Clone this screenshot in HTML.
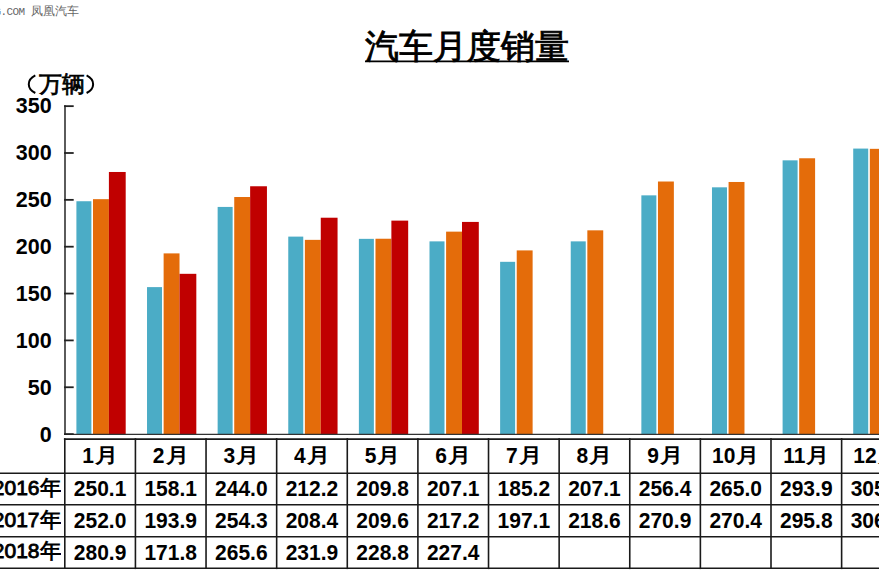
<!DOCTYPE html>
<html><head><meta charset="utf-8"><style>
html,body{margin:0;padding:0;background:#fff;}
body{width:879px;height:586px;overflow:hidden;position:relative;font-family:"Liberation Sans",sans-serif;color:#000;}
svg{position:absolute;left:0;top:0;}
div{position:absolute;white-space:nowrap;line-height:24px;height:24px;}
.vl{transform:scaleY(1.09);transform-origin:50% 50%;}
.ax{transform:scaleY(1.03);transform-origin:50% 50%;}
.dg2{display:inline-block;font-weight:normal;-webkit-text-stroke:0.85px #000;transform:scaleY(1.0);margin-right:-1.5px;}
.cj2{display:inline-block;font-size:23px;margin-left:0px;transform:scale(0.93,0.9);transform-origin:100% 85%;}
.dg{display:inline-block;transform:scaleY(1.09);}
.cj{display:inline-block;font-size:23px;margin-left:1px;transform:scale(1.02,0.88);transform-origin:50% 85%;}
.ax{font-weight:bold;font-size:21.5px;}
.mh{font-weight:bold;font-size:21px;}
.vl{font-weight:bold;font-size:21px;}
.yl{font-weight:bold;font-size:21px;}
.tl{stroke:#1a1a1a;stroke-width:1.6;}
.ti{font-weight:500;-webkit-text-stroke:0.9px #000;font-size:34px;line-height:40px;height:40px;}
.un{font-weight:500;-webkit-text-stroke:0.75px #000;font-size:23px;}
.wm{font-family:"Liberation Mono",monospace;font-size:11px;letter-spacing:-0.6px;color:#666;line-height:14px;height:14px;}
.wm2{font-size:12px;color:#666;line-height:14px;height:14px;}
</style></head><body>
<svg width="879" height="586" viewBox="0 0 879 586">
<path d="M35.3,75.4 C26.6,79.8 26.6,88.6 35.3,93" fill="none" stroke="#000" stroke-width="2"/>
<path d="M86.6,75.4 C95.3,79.8 95.3,88.6 86.6,93" fill="none" stroke="#000" stroke-width="2"/>
<line x1="365" y1="61.4" x2="569" y2="61.4" stroke="#000" stroke-width="1.6"/>
<rect x="76.40" y="201.23" width="15.00" height="232.87" fill="#4BACC6"/>
<rect x="93.00" y="199.16" width="15.90" height="234.94" fill="#E46C0A"/>
<rect x="108.90" y="171.98" width="16.80" height="262.12" fill="#C00000"/>
<rect x="147.02" y="287.11" width="15.00" height="146.99" fill="#4BACC6"/>
<rect x="163.62" y="253.39" width="15.90" height="180.71" fill="#E46C0A"/>
<rect x="179.52" y="273.82" width="16.80" height="160.28" fill="#C00000"/>
<rect x="217.64" y="206.93" width="15.00" height="227.17" fill="#4BACC6"/>
<rect x="234.24" y="197.01" width="15.90" height="237.09" fill="#E46C0A"/>
<rect x="250.14" y="186.26" width="16.80" height="247.84" fill="#C00000"/>
<rect x="288.26" y="236.61" width="15.00" height="197.49" fill="#4BACC6"/>
<rect x="304.86" y="239.86" width="15.90" height="194.24" fill="#E46C0A"/>
<rect x="320.76" y="217.72" width="16.80" height="216.38" fill="#C00000"/>
<rect x="358.88" y="238.85" width="15.00" height="195.25" fill="#4BACC6"/>
<rect x="375.48" y="238.74" width="15.90" height="195.36" fill="#E46C0A"/>
<rect x="391.38" y="220.62" width="16.80" height="213.48" fill="#C00000"/>
<rect x="429.50" y="241.37" width="15.00" height="192.73" fill="#4BACC6"/>
<rect x="446.10" y="231.64" width="15.90" height="202.46" fill="#E46C0A"/>
<rect x="462.00" y="221.92" width="16.80" height="212.18" fill="#C00000"/>
<rect x="500.12" y="261.82" width="15.00" height="172.28" fill="#4BACC6"/>
<rect x="516.72" y="250.41" width="15.90" height="183.69" fill="#E46C0A"/>
<rect x="570.74" y="241.37" width="15.00" height="192.73" fill="#4BACC6"/>
<rect x="587.34" y="230.34" width="15.90" height="203.76" fill="#E46C0A"/>
<rect x="641.36" y="195.35" width="15.00" height="238.75" fill="#4BACC6"/>
<rect x="657.96" y="181.51" width="15.90" height="252.59" fill="#E46C0A"/>
<rect x="711.98" y="187.32" width="15.00" height="246.78" fill="#4BACC6"/>
<rect x="728.58" y="181.98" width="15.90" height="252.12" fill="#E46C0A"/>
<rect x="782.60" y="160.34" width="15.00" height="273.76" fill="#4BACC6"/>
<rect x="799.20" y="158.27" width="15.90" height="275.83" fill="#E46C0A"/>
<rect x="853.22" y="148.58" width="15.00" height="285.52" fill="#4BACC6"/>
<rect x="869.82" y="148.84" width="15.90" height="285.26" fill="#E46C0A"/>
<line x1="64.1" y1="434.40" x2="879" y2="434.40" stroke="#333" stroke-width="1.3"/>
<line x1="65" y1="105.3" x2="65" y2="435.00" stroke="#333" stroke-width="1.6"/>
<line x1="64.1" y1="434.10" x2="73.7" y2="434.10" stroke="#222" stroke-width="1.8"/>
<line x1="64.1" y1="387.25" x2="73.7" y2="387.25" stroke="#222" stroke-width="1.8"/>
<line x1="64.1" y1="340.40" x2="73.7" y2="340.40" stroke="#222" stroke-width="1.8"/>
<line x1="64.1" y1="293.55" x2="73.7" y2="293.55" stroke="#222" stroke-width="1.8"/>
<line x1="64.1" y1="246.70" x2="73.7" y2="246.70" stroke="#222" stroke-width="1.8"/>
<line x1="64.1" y1="199.85" x2="73.7" y2="199.85" stroke="#222" stroke-width="1.8"/>
<line x1="64.1" y1="153.00" x2="73.7" y2="153.00" stroke="#222" stroke-width="1.8"/>
<line x1="64.1" y1="106.15" x2="73.7" y2="106.15" stroke="#222" stroke-width="1.8"/>
<line x1="63.90" y1="439.10" x2="879" y2="439.10" class="tl"/>
<line x1="0" y1="473.20" x2="879" y2="473.20" class="tl"/>
<line x1="0" y1="504.80" x2="879" y2="504.80" class="tl"/>
<line x1="0" y1="536.70" x2="879" y2="536.70" class="tl"/>
<line x1="0" y1="568.20" x2="879" y2="568.20" class="tl"/>
<line x1="64.80" y1="438.20" x2="64.80" y2="569.10" class="tl"/>
<line x1="135.42" y1="438.20" x2="135.42" y2="569.10" class="tl"/>
<line x1="206.04" y1="438.20" x2="206.04" y2="569.10" class="tl"/>
<line x1="276.66" y1="438.20" x2="276.66" y2="569.10" class="tl"/>
<line x1="347.28" y1="438.20" x2="347.28" y2="569.10" class="tl"/>
<line x1="417.90" y1="438.20" x2="417.90" y2="569.10" class="tl"/>
<line x1="488.52" y1="438.20" x2="488.52" y2="569.10" class="tl"/>
<line x1="559.14" y1="438.20" x2="559.14" y2="569.10" class="tl"/>
<line x1="629.76" y1="438.20" x2="629.76" y2="569.10" class="tl"/>
<line x1="700.38" y1="438.20" x2="700.38" y2="569.10" class="tl"/>
<line x1="771.00" y1="438.20" x2="771.00" y2="569.10" class="tl"/>
<line x1="841.62" y1="438.20" x2="841.62" y2="569.10" class="tl"/>
<line x1="912.24" y1="438.20" x2="912.24" y2="569.10" class="tl"/>
</svg>
<div class="ti" style="left:267px;top:25.8px;width:400px;text-align:center">汽车月度销量</div>
<div class="un" style="left:38.5px;top:72px;width:30px">万</div>
<div class="un" style="left:61.5px;top:72px;width:30px">辆</div>
<div class="wm" style="left:-5.6px;top:5px;width:60px">G.COM</div>
<div class="wm2" style="left:31px;top:4px;width:80px">凤凰汽车</div>
<div class="ax" style="left:0.00px;top:423.30px;width:51.60px;text-align:right">0</div>
<div class="ax" style="left:0.00px;top:376.25px;width:51.60px;text-align:right">50</div>
<div class="ax" style="left:0.00px;top:329.20px;width:51.60px;text-align:right">100</div>
<div class="ax" style="left:0.00px;top:282.15px;width:51.60px;text-align:right">150</div>
<div class="ax" style="left:0.00px;top:235.10px;width:51.60px;text-align:right">200</div>
<div class="ax" style="left:0.00px;top:188.05px;width:51.60px;text-align:right">250</div>
<div class="ax" style="left:0.00px;top:141.00px;width:51.60px;text-align:right">300</div>
<div class="ax" style="left:0.00px;top:93.95px;width:51.60px;text-align:right">350</div>
<div class="mh" style="left:64.80px;top:441.65px;width:70.62px;text-align:center"><span class="dg">1</span><span class="cj">月</span></div>
<div class="mh" style="left:135.42px;top:441.65px;width:70.62px;text-align:center"><span class="dg">2</span><span class="cj">月</span></div>
<div class="mh" style="left:206.04px;top:441.65px;width:70.62px;text-align:center"><span class="dg">3</span><span class="cj">月</span></div>
<div class="mh" style="left:276.66px;top:441.65px;width:70.62px;text-align:center"><span class="dg">4</span><span class="cj">月</span></div>
<div class="mh" style="left:347.28px;top:441.65px;width:70.62px;text-align:center"><span class="dg">5</span><span class="cj">月</span></div>
<div class="mh" style="left:417.90px;top:441.65px;width:70.62px;text-align:center"><span class="dg">6</span><span class="cj">月</span></div>
<div class="mh" style="left:488.52px;top:441.65px;width:70.62px;text-align:center"><span class="dg">7</span><span class="cj">月</span></div>
<div class="mh" style="left:559.14px;top:441.65px;width:70.62px;text-align:center"><span class="dg">8</span><span class="cj">月</span></div>
<div class="mh" style="left:629.76px;top:441.65px;width:70.62px;text-align:center"><span class="dg">9</span><span class="cj">月</span></div>
<div class="mh" style="left:700.38px;top:441.65px;width:70.62px;text-align:center"><span class="dg">10</span><span class="cj">月</span></div>
<div class="mh" style="left:771.00px;top:441.65px;width:70.62px;text-align:center"><span class="dg">11</span><span class="cj">月</span></div>
<div class="mh" style="left:841.62px;top:441.65px;width:70.62px;text-align:center"><span class="dg">12</span><span class="cj">月</span></div>
<div class="yl" style="left:-40.00px;top:475.00px;width:101.00px;text-align:right"><span class="dg2">2016</span><span class="cj2">年</span></div>
<div class="vl" style="left:64.80px;top:476.30px;width:70.62px;text-align:center">250.1</div>
<div class="vl" style="left:135.42px;top:476.30px;width:70.62px;text-align:center">158.1</div>
<div class="vl" style="left:206.04px;top:476.30px;width:70.62px;text-align:center">244.0</div>
<div class="vl" style="left:276.66px;top:476.30px;width:70.62px;text-align:center">212.2</div>
<div class="vl" style="left:347.28px;top:476.30px;width:70.62px;text-align:center">209.8</div>
<div class="vl" style="left:417.90px;top:476.30px;width:70.62px;text-align:center">207.1</div>
<div class="vl" style="left:488.52px;top:476.30px;width:70.62px;text-align:center">185.2</div>
<div class="vl" style="left:559.14px;top:476.30px;width:70.62px;text-align:center">207.1</div>
<div class="vl" style="left:629.76px;top:476.30px;width:70.62px;text-align:center">256.4</div>
<div class="vl" style="left:700.38px;top:476.30px;width:70.62px;text-align:center">265.0</div>
<div class="vl" style="left:771.00px;top:476.30px;width:70.62px;text-align:center">293.9</div>
<div class="vl" style="left:841.62px;top:476.30px;width:70.62px;text-align:center">305.5</div>
<div class="yl" style="left:-40.00px;top:506.75px;width:101.00px;text-align:right"><span class="dg2">2017</span><span class="cj2">年</span></div>
<div class="vl" style="left:64.80px;top:508.05px;width:70.62px;text-align:center">252.0</div>
<div class="vl" style="left:135.42px;top:508.05px;width:70.62px;text-align:center">193.9</div>
<div class="vl" style="left:206.04px;top:508.05px;width:70.62px;text-align:center">254.3</div>
<div class="vl" style="left:276.66px;top:508.05px;width:70.62px;text-align:center">208.4</div>
<div class="vl" style="left:347.28px;top:508.05px;width:70.62px;text-align:center">209.6</div>
<div class="vl" style="left:417.90px;top:508.05px;width:70.62px;text-align:center">217.2</div>
<div class="vl" style="left:488.52px;top:508.05px;width:70.62px;text-align:center">197.1</div>
<div class="vl" style="left:559.14px;top:508.05px;width:70.62px;text-align:center">218.6</div>
<div class="vl" style="left:629.76px;top:508.05px;width:70.62px;text-align:center">270.9</div>
<div class="vl" style="left:700.38px;top:508.05px;width:70.62px;text-align:center">270.4</div>
<div class="vl" style="left:771.00px;top:508.05px;width:70.62px;text-align:center">295.8</div>
<div class="vl" style="left:841.62px;top:508.05px;width:70.62px;text-align:center">306.3</div>
<div class="yl" style="left:-40.00px;top:538.45px;width:101.00px;text-align:right"><span class="dg2">2018</span><span class="cj2">年</span></div>
<div class="vl" style="left:64.80px;top:539.75px;width:70.62px;text-align:center">280.9</div>
<div class="vl" style="left:135.42px;top:539.75px;width:70.62px;text-align:center">171.8</div>
<div class="vl" style="left:206.04px;top:539.75px;width:70.62px;text-align:center">265.6</div>
<div class="vl" style="left:276.66px;top:539.75px;width:70.62px;text-align:center">231.9</div>
<div class="vl" style="left:347.28px;top:539.75px;width:70.62px;text-align:center">228.8</div>
<div class="vl" style="left:417.90px;top:539.75px;width:70.62px;text-align:center">227.4</div>
</body></html>
